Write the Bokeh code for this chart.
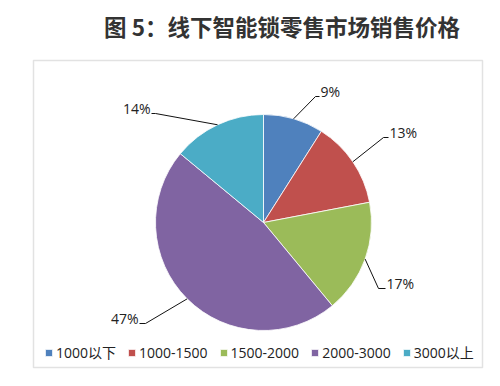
import numpy as np
from bokeh.plotting import figure
from bokeh.models import Range1d, Legend, LegendItem, ColumnDataSource, BoxAnnotation
from bokeh.core.properties import value
from bokeh.embed import file_html
from bokeh.resources import INLINE

# ---- data ----
categories = ["1000以下", "1000-1500", "1500-2000", "2000-3000", "3000以上"]
shares = [9, 13, 17, 47, 14]
colors = ["#4F81BD", "#C0504D", "#9BBB59", "#8064A2", "#4BACC6"]
title_text = "图 5：线下智能锁零售市场销售价格"

# ---- layout (page pixel space -> data) ----
W, H = 484, 370


def Y(py):
    return 386 - py


p = figure(width=W, height=H, x_range=Range1d(0, W), y_range=Range1d(386 - H, 386),
           output_backend="svg", toolbar_location=None, min_border=0)
p.axis.visible = False
p.grid.visible = False
p.outline_line_color = None
p.background_fill_color = "white"
p.border_fill_color = "white"

# chart box
p.add_layout(BoxAnnotation(left=33, right=482, bottom=Y(367), top=Y(60),
                           fill_alpha=0, line_color="#a0a0a0", line_width=1.5))

# title
p.text(x=[281.5], y=[Y(25)], text=[title_text], text_align="center", text_baseline="middle",
       text_font=value("Noto Sans CJK SC"), text_font_size="22.5px", text_font_style="bold",
       text_color="#333333")

# pie
cx, cy, R = 263, Y(222), 108
frac = np.array(shares, dtype=float) / sum(shares)
cum = np.concatenate([[0.0], np.cumsum(frac)])
start = np.pi / 2 - 2 * np.pi * cum[:-1]
end = np.pi / 2 - 2 * np.pi * cum[1:]
mid = np.pi / 2 - 2 * np.pi * (cum[:-1] + frac / 2)

src = ColumnDataSource(dict(start=start, end=end, color=colors, cat=categories))
wr = p.wedge(x=cx, y=cy, radius=R, start_angle="start", end_angle="end", direction="clock",
             fill_color="color", line_color="white", line_width=0.8, source=src)

# leader lines + labels
elbow_px = [(315, 96), (383, 137), (378, 288), (145, 323), (155, 113)]
end_px = [(319, 96), (388, 137), (385, 288), (139, 323), (151, 113)]
xs, ys, tx, ty, ta = [], [], [], [], []
for i in range(len(shares)):
    ex, ey = cx + R * np.cos(mid[i]), cy + R * np.sin(mid[i])
    bx, by = elbow_px[i][0], Y(elbow_px[i][1])
    fx, fy = end_px[i][0], Y(end_px[i][1])
    xs.append([ex, bx, fx])
    ys.append([ey, by, fy])
    right = fx > bx
    tx.append(fx + (1 if right else -1))
    ty.append(fy + 5)
    ta.append("left" if right else "right")
p.multi_line(xs=xs, ys=ys, line_color="#111111", line_width=1)
lab = ColumnDataSource(dict(x=tx, y=ty, t=[f"{v}%" for v in shares], a=ta))
p.text(x="x", y="y", text="t", text_align="a", text_baseline="middle", source=lab,
       text_font=value("Open Sans"), text_font_size="14px", text_color="#222222")

# legend
legend = Legend(items=[LegendItem(label=c, renderers=[wr], index=i) for i, c in enumerate(categories)],
                orientation="horizontal", location=(44, 8), padding=0, margin=0,
                spacing=11, glyph_width=9, glyph_height=9, label_standoff=3, label_height=14,
                label_text_font="'Open Sans', 'Noto Sans CJK SC'", label_text_font_size="14px",
                label_text_color="#222222", border_line_color=None, background_fill_alpha=0)
p.add_layout(legend)

open("out.html", "w").write(file_html(p, INLINE))
